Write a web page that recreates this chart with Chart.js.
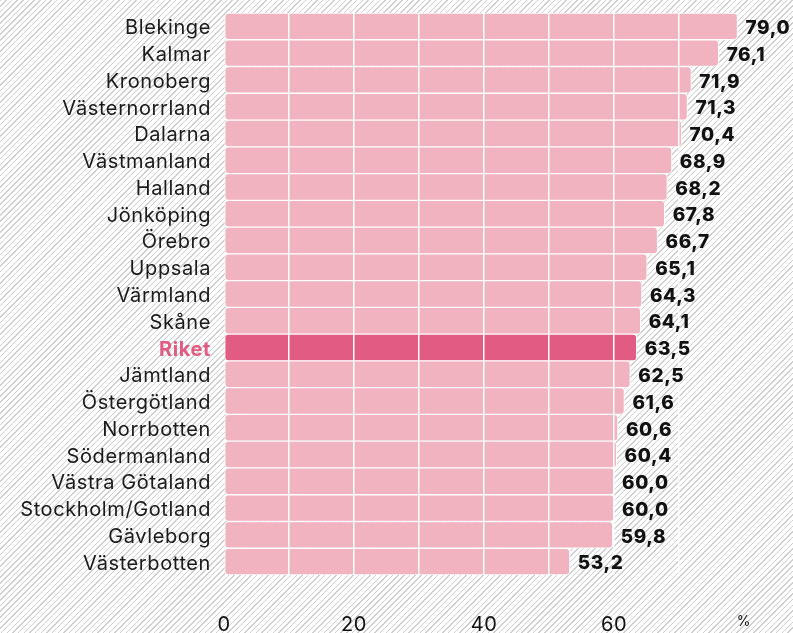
<!DOCTYPE html>
<html>
<head>
<meta charset="utf-8">
<script src="https://cdn.jsdelivr.net/npm/chart.js@4"></script>
<style>
html,body{margin:0;padding:0;}
body{
width:793px;height:633px;overflow:hidden;
background:repeating-linear-gradient(135deg,#cfcfcf 0 1px,#ffffff 1px 4px);
}
#wrap{position:relative;width:793px;height:633px;}
</style>
</head>
<body>
<div id="wrap"><canvas id="chart"></canvas></div>
<script>
// regions, sorted by share
const regions = ["Blekinge","Kalmar","Kronoberg","Västernorrland","Dalarna","Västmanland","Halland","Jönköping","Örebro","Uppsala","Värmland","Skåne","Riket","Jämtland","Östergötland","Norrbotten","Södermanland","Västra Götaland","Stockholm/Gotland","Gävleborg","Västerbotten"];
const shares = [79.0,76.1,71.9,71.3,70.4,68.9,68.2,67.8,66.7,65.1,64.3,64.1,63.5,62.5,61.6,60.6,60.4,60.0,60.0,59.8,53.2];
const xTicks = [0,20,40,60];
const unitLabel = "%";

const highlight = "Riket";
const pink = "#f1b3c0";
const darkPink = "#e15b83";
const fontName = "Inter, 'Open Sans', sans-serif";

const fmt = v => v.toFixed(1).replace(".", ",");

// the original font is wider, spread letters a bit
const spacing = {
  id:"spacing",
  beforeUpdate(chart){ chart.ctx.letterSpacing = "0.6px"; },
  beforeDraw(chart){ chart.ctx.letterSpacing = "0.6px"; }
};

// value labels at bar ends, on top of the grid
const valueLabels = {
  id:"valueLabels",
  afterDraw(chart){
    const ctx = chart.ctx;
    const meta = chart.getDatasetMeta(0);
    ctx.save();
    ctx.font = "800 19px " + fontName;
    ctx.fillStyle = "#111";
    ctx.textBaseline = "middle";
    ctx.textAlign = "left";
    meta.data.forEach((bar, i) => {
      ctx.fillText(fmt(shares[i]), bar.x + 8, bar.y + 2);
    });
    ctx.restore();
  }
};

new Chart(document.getElementById("chart"),{
  type:"bar",
  data:{
    labels:regions,
    datasets:[{
      data:shares,
      backgroundColor:regions.map(r => r === highlight ? darkPink : pink),
      borderColor:"#ffffff",
      borderWidth:1,
      borderRadius:4,
      borderSkipped:false,
      barPercentage:1,
      categoryPercentage:1
    }]
  },
  options:{
    indexAxis:"y",
    responsive:true,
    maintainAspectRatio:false,
    animation:false,
    layout:{padding:{top:13,right:49,bottom:0,left:0}},
    plugins:{legend:{display:false},tooltip:{enabled:false}},
    scales:{
      x:{
        min:0,max:80,
        border:{display:false},
        grid:{
          z:1,
          color:c => (c.tick && c.tick.value > 0 && c.tick.value < 80) ? "#ffffff" : "rgba(0,0,0,0)",
          lineWidth:1.5,
          drawTicks:false
        },
        ticks:{
          stepSize:10,
          autoSkip:false,
          maxRotation:0,
          padding:38,
          color:"#111",
          font:c => ({family:fontName, size:(c.tick && c.tick.value === 80) ? 14 : 20}),
          callback:v => v === 80 ? unitLabel : (xTicks.includes(v) ? String(v) : "")
        },
        afterFit:s => { s.height = 58; }
      },
      y:{
        border:{display:false},
        grid:{display:false},
        ticks:{
          autoSkip:false,
          padding:5,
          labelOffset:2,
          color:c => regions[c.index] === highlight ? darkPink : "#1a1a1a",
          font:c => ({family:fontName, size:20, weight:regions[c.index] === highlight ? "700" : "400"})
        },
        afterFit:s => { s.width = 224; s.paddingTop = 0; s.paddingBottom = 0; }
      }
    }
  },
  plugins:[spacing, valueLabels]
});
</script>
</body>
</html>
